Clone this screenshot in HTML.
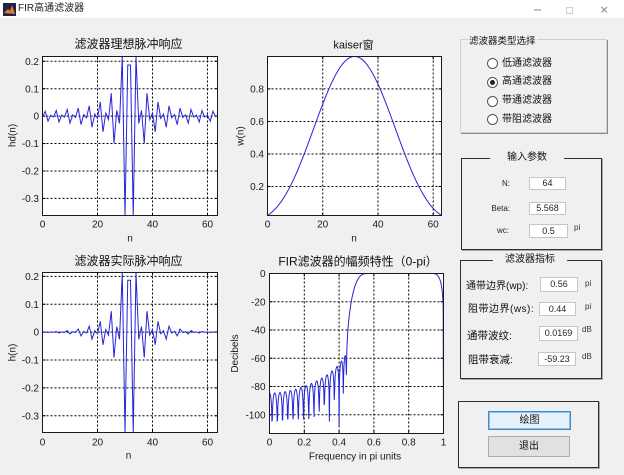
<!DOCTYPE html>
<html><head><meta charset="utf-8">
<style>
*{margin:0;padding:0;box-sizing:border-box}
html,body{width:624px;height:475px;overflow:hidden;background:#f0f0f0}
body{position:relative;font-family:"Liberation Sans","Noto Sans CJK SC",sans-serif;color:#111}
.a{position:absolute;white-space:nowrap}
.box{position:absolute;background:#fff;border:1px solid #c6c6c6;text-align:center;font-size:9px;color:#222}
.pnl{position:absolute;border:1px solid #303030;box-shadow:1px 1px 0 #a8a8a8}
.rad{position:absolute;width:11px;height:11px;border:1px solid #555;border-radius:50%;background:#fff}
.lb{position:absolute;white-space:nowrap;font-size:10.5px;line-height:13px}
.un{position:absolute;white-space:nowrap;font-size:8px;line-height:10px;color:#333}
.sl{position:absolute;white-space:nowrap;font-size:8px;line-height:11px;text-align:right;color:#222}
</style></head><body>

<!-- title bar -->
<div class="a" style="left:0;top:0;width:624px;height:18px;background:#fff"></div>
<svg class="a" style="left:3px;top:3px" width="13" height="13"><rect width="13" height="13" fill="#1b2440"/><path d="M1 10 L5 6 L7 8 L9 2 L12 11 Z" fill="#e8782a"/></svg>
<div class="a" style="left:18px;top:2px;font-size:10px;line-height:13px;color:#222">FIR高通滤波器</div>
<svg class="a" style="left:0;top:0" width="624" height="18">
<line x1="534" y1="10" x2="541" y2="10" stroke="#8a8a8a" stroke-width="1"/>
<rect x="566.5" y="7.5" width="6" height="6" fill="none" stroke="#cfcfcf" stroke-width="1"/>
<line x1="601.5" y1="7" x2="607" y2="12.5" stroke="#8a8a8a" stroke-width="1"/>
<line x1="607" y1="7" x2="601.5" y2="12.5" stroke="#8a8a8a" stroke-width="1"/>
</svg>

<!-- Panel 1 : filter type -->
<div class="a" style="left:460px;top:39px;width:147px;height:94px;border:1px solid #cfcfcf;box-shadow:1px 1px 0 #8a8a8a"></div>
<div class="a" style="left:468px;top:35px;font-size:9.5px;line-height:13px;background:#f0f0f0;padding:0 1px">滤波器类型选择</div>
<div class="rad" style="left:487px;top:58px"></div>
<div class="rad" style="left:487px;top:77px"></div>
<div class="a" style="left:490px;top:80px;width:5px;height:5px;border-radius:50%;background:#222"></div>
<div class="rad" style="left:487px;top:96px"></div>
<div class="rad" style="left:487px;top:114px"></div>
<div class="a" style="left:502px;top:57.7px;font-size:10px;line-height:12px">低通滤波器</div>
<div class="a" style="left:502px;top:76.3px;font-size:10px;line-height:12px">高通滤波器</div>
<div class="a" style="left:502px;top:95.3px;font-size:10px;line-height:12px">带通滤波器</div>
<div class="a" style="left:502px;top:113.7px;font-size:10px;line-height:12px">带阻滤波器</div>

<!-- Panel 2 : input params -->
<div class="pnl" style="left:461px;top:158px;width:141px;height:92px"></div>
<div class="a" style="left:490px;top:152px;width:74px;text-align:center;font-size:10px;line-height:12px;background:#f0f0f0">输入参数</div>
<div class="sl" style="right:114px;top:178px">N:</div>
<div class="sl" style="right:114px;top:203px">Beta:</div>
<div class="sl" style="right:115px;top:224.5px">wc:</div>
<div class="box" style="left:529px;top:177px;width:37px;height:13px;line-height:11px">64</div>
<div class="box" style="left:529px;top:202px;width:37px;height:13px;line-height:11px">5.568</div>
<div class="box" style="left:529px;top:224px;width:39px;height:14px;line-height:12px">0.5</div>
<div class="un" style="left:574px;top:223px">pi</div>

<!-- Panel 3 : filter indices -->
<div class="pnl" style="left:460px;top:260px;width:142px;height:119px"></div>
<div class="a" style="left:493px;top:254px;width:74px;text-align:center;font-size:10px;line-height:12px;background:#f0f0f0">滤波器指标</div>
<div class="lb" style="left:466px;top:279.5px;font-size:10px">通带边界(wp):</div>
<div class="lb" style="left:468px;top:302.8px;letter-spacing:0.5px;font-size:10px">阻带边界(ws):</div>
<div class="lb" style="left:467px;top:329.5px">通带波纹:</div>
<div class="lb" style="left:468px;top:353.5px">阻带衰减:</div>
<div class="box" style="left:540px;top:277px;width:38px;height:15px;line-height:13px">0.56</div>
<div class="box" style="left:539px;top:302px;width:37px;height:14px;line-height:12px">0.44</div>
<div class="box" style="left:539px;top:326px;width:39px;height:15px;line-height:13px">0.0169</div>
<div class="box" style="left:538px;top:352px;width:38px;height:14px;line-height:12px">-59.23</div>
<div class="un" style="left:585px;top:279px">pi</div>
<div class="un" style="left:585px;top:301.5px">pi</div>
<div class="un" style="left:582px;top:325px">dB</div>
<div class="un" style="left:582px;top:351.5px">dB</div>

<!-- Panel 4 : buttons -->
<div class="pnl" style="left:458px;top:401px;width:141px;height:67px"></div>
<div class="a" style="left:488px;top:411px;width:83px;height:19px;background:#e5f1fb;border:1px solid #3c8bd0;box-shadow:inset 0 0 0 1px #8fc0ea;text-align:center;font-size:10px;line-height:17px">绘图</div>
<div class="a" style="left:488px;top:436px;width:82px;height:21px;background:#e1e1e1;border:1px solid #adadad;text-align:center;font-size:10px;line-height:19px">退出</div>

<!-- Plots -->
<svg class="a" style="left:0;top:0" width="624" height="475" font-family="Liberation Sans, Noto Sans CJK SC, sans-serif">
<defs>
<clipPath id="cA"><rect x="42.5" y="56.5" width="175" height="159"/></clipPath>
<clipPath id="cB"><rect x="267.5" y="56.5" width="174" height="159"/></clipPath>
<clipPath id="cC"><rect x="42.5" y="272.5" width="175" height="160"/></clipPath>
<clipPath id="cD"><rect x="269.5" y="273.5" width="174" height="160"/></clipPath>
</defs>

<rect x="42.5" y="56.5" width="175" height="159" fill="#fff"/>
<rect x="267.5" y="56.5" width="174" height="159" fill="#fff"/>
<rect x="42.5" y="272.5" width="175" height="160" fill="#fff"/>
<rect x="269.5" y="273.5" width="174" height="160" fill="#fff"/>

<g id="gA"></g><g id="gB"></g><g id="gC"></g><g id="gD"></g>

<polyline id="pA" clip-path="url(#cA)" fill="none" stroke="#2525d8" stroke-width="1" points=""/>
<polyline id="pB" clip-path="url(#cB)" fill="none" stroke="#2525d8" stroke-width="1" points=""/>
<polyline id="pC" clip-path="url(#cC)" fill="none" stroke="#2525d8" stroke-width="1" points=""/>
<polyline id="pD" clip-path="url(#cD)" fill="none" stroke="#2525d8" stroke-width="1" points=""/>

<g fill="none" stroke="#1a1a1a" stroke-width="1">
<rect x="42.5" y="56.5" width="175" height="159"/>
<rect x="267.5" y="56.5" width="174" height="159"/>
<rect x="42.5" y="272.5" width="175" height="160"/>
<rect x="269.5" y="273.5" width="174" height="160"/>
</g>

<g font-size="12" fill="#111" text-anchor="middle">
<text x="128.5" y="48">滤波器理想脉冲响应</text>
<text x="128.5" y="265">滤波器实际脉冲响应</text>
<text x="358" y="265.5">FIR滤波器的幅频特性（0-pi）</text>
</g>
<text x="353.5" y="48.5" font-size="11" fill="#111" text-anchor="middle">kaiser窗</text>

<g font-size="10" fill="#1a1a1a">
<g text-anchor="end">
<text x="39" y="64.9">0.2</text>
<text x="39" y="92.3">0.1</text>
<text x="39" y="119.7">0</text>
<text x="39" y="147.2">-0.1</text>
<text x="39" y="174.6">-0.2</text>
<text x="39" y="202">-0.3</text>

<text x="264" y="190.2">0.2</text>
<text x="264" y="157.6">0.4</text>
<text x="264" y="125.1">0.6</text>
<text x="264" y="92.5">0.8</text>

<text x="39" y="280">0.2</text>
<text x="39" y="307.9">0.1</text>
<text x="39" y="335.7">0</text>
<text x="39" y="363.6">-0.1</text>
<text x="39" y="391.5">-0.2</text>
<text x="39" y="419.3">-0.3</text>

<text x="265.5" y="277.1">0</text>
<text x="265.5" y="305.3">-20</text>
<text x="265.5" y="333.6">-40</text>
<text x="265.5" y="361.8">-60</text>
<text x="265.5" y="390.1">-80</text>
<text x="265.5" y="418.3">-100</text>
</g>
<g text-anchor="middle">
<text x="42.5" y="227.6">0</text>
<text x="97.5" y="227.6">20</text>
<text x="152.5" y="227.6">40</text>
<text x="207.5" y="227.6">60</text>

<text x="267.5" y="227.6">0</text>
<text x="322.7" y="227.6">20</text>
<text x="378" y="227.6">40</text>
<text x="433.2" y="227.6">60</text>

<text x="42.5" y="445.3">0</text>
<text x="97.5" y="445.3">20</text>
<text x="152.5" y="445.3">40</text>
<text x="207.5" y="445.3">60</text>

<text x="269.5" y="445.3">0</text>
<text x="304.3" y="445.3">0.2</text>
<text x="339.1" y="445.3">0.4</text>
<text x="373.9" y="445.3">0.6</text>
<text x="408.7" y="445.3">0.8</text>
<text x="443.5" y="445.3">1</text>

<text x="130" y="241.5">n</text>
<text x="354" y="241.5">n</text>
<text x="128.5" y="458.5">n</text>
<text x="355" y="459.5">Frequency in pi units</text>

<text transform="translate(15.5,135.5) rotate(-90)">hd(n)</text>
<text transform="translate(243.5,136) rotate(-90)">w(n)</text>
<text transform="translate(15.5,352.5) rotate(-90)">h(n)</text>
<text transform="translate(238,353.5) rotate(-90)">Decibels</text>
</g>
</g>
</svg>

<script>
(function(){
var NS='http://www.w3.org/2000/svg';
function mk(tag,at,par){var e=document.createElementNS(NS,tag);for(var k in at)e.setAttribute(k,at[k]);par.appendChild(e);return e;}
function grid(gid,b,xs,ys){var g=document.getElementById(gid);
 var d=mk('g',{stroke:'#000','stroke-width':'1','stroke-dasharray':'2 2',fill:'none'},g);
 var t=mk('g',{stroke:'#000','stroke-width':'1',fill:'none'},g);
 xs.forEach(function(x){mk('line',{x1:x,y1:b[1],x2:x,y2:b[3]},d);mk('line',{x1:x,y1:b[3],x2:x,y2:b[3]-3},t);mk('line',{x1:x,y1:b[1],x2:x,y2:b[1]+3},t);});
 ys.forEach(function(y){mk('line',{x1:b[0],y1:y,x2:b[2],y2:y},d);mk('line',{x1:b[0],y1:y,x2:b[0]+3,y2:y},t);mk('line',{x1:b[2],y1:y,x2:b[2]-3,y2:y},t);});
}
grid('gA',[42.5,56.5,217.5,215.5],[97.5,152.5,207.5],[61.26,88.69,116.13,143.56,170.99,198.43]);
grid('gB',[267.5,56.5,441.5,215.5],[322.74,377.98,433.21],[186.55,154.01,121.47,88.93]);
grid('gC',[42.5,272.5,217.5,432.5],[97.5,152.5,207.5],[276.38,304.25,332.12,359.99,387.86,415.73]);
grid('gD',[269.5,273.5,443.5,433.5],[304.3,339.1,373.9,408.7],[301.74,329.99,358.23,386.47,414.72]);

function I0(x){var s=1,t=1;for(var k=1;k<60;k++){t*=(x/(2*k))*(x/(2*k));s+=t;}return s;}
var N=64,a=(N-1)/2,beta=5.568,wc=0.5*Math.PI;
var hd=[],w=[],h=[],ns=[];
var ib=I0(beta);
for(var n=0;n<N;n++){
 var m=n-a;
 var v=(Math.abs(m)<1e-9)?(1-wc/Math.PI):(Math.sin(Math.PI*m)-Math.sin(wc*m))/(Math.PI*m);
 hd.push(v);
 var r=2*n/(N-1)-1;
 var ww=I0(beta*Math.sqrt(Math.max(0,1-r*r)))/ib;
 w.push(ww);h.push(v*ww);ns.push(n);
}
function poly(id,xs,ys,fx,fy){var p=[];for(var i=0;i<xs.length;i++){p.push(fx(xs[i]).toFixed(2)+','+fy(ys[i]).toFixed(2));}document.getElementById(id).setAttribute('points',p.join(' '));}
poly('pA',ns,hd,function(x){return 42.5+2.75*x;},function(y){return 215.5-(y+0.36224)/0.57959*159;});
poly('pB',ns,w,function(x){return 267.5+x*174/63;},function(y){return 215.5-(y-0.022025)/0.977335*159;});
poly('pC',ns,h,function(x){return 42.5+2.75*x;},function(y){return 432.5-(y+0.36018)/0.5741*160;});
var K=501,fx=[],mags=[],db=[];
for(var k=0;k<K;k++){var om=Math.PI*k/(K-1);var re=0,im=0;for(var n=0;n<N;n++){re+=h[n]*Math.cos(om*n);im-=h[n]*Math.sin(om*n);}mags.push(Math.sqrt(re*re+im*im));fx.push(k/(K-1));}
var mx=Math.max.apply(null,mags);
for(var k=0;k<K;k++){var d=20*Math.log10(Math.max(mags[k]/mx,1e-20));if(d<-116)d=-116;if(d>0.5)d=0.5;db.push(d);}
poly('pD',fx,db,function(x){return 269.5+x*174;},function(y){return 273.5-y/113.3*160;});
})();
</script>
</body></html>
